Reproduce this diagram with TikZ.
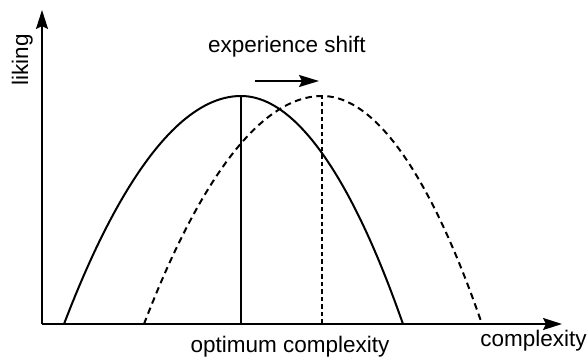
\documentclass[tikz,border=0pt]{standalone}
\usepackage{fontspec}
\setmainfont{Liberation Sans}
\usetikzlibrary{arrows.meta}

\begin{document}
\begin{tikzpicture}[
    x=1pt, y=1pt,
    axis/.style={line width=2pt, -{Stealth[length=19pt, width=12pt, inset=3pt]}},
    curve/.style={line width=2pt},
    shifted/.style={line width=2pt, dash pattern=on 6.5pt off 4.5pt},
    peakline/.style={line width=1.5pt},
    peakdash/.style={line width=1.5pt, dash pattern=on 4.5pt off 3pt},
    arr/.style={line width=2pt, -{Stealth[length=20pt, width=12pt, inset=3pt]}},
    lbl/.style={font=\fontsize{22.5}{26}\selectfont, inner sep=0pt, anchor=base},
]
    \useasboundingbox (0,0) rectangle (587,358);

    % axes
    \coordinate (origin) at (42,34);
    \coordinate (xend) at (562,34);
    \coordinate (yend) at (42,348);
    \draw[axis] (origin) -- (xend);
    \draw[axis] (origin) -- (yend);

    % curves before and after the shift
    \coordinate (rootA) at (64,34);
    \coordinate (peakA) at (241,262);
    \coordinate (endA) at (403,34);
    \coordinate (rootB) at (144,34);
    \coordinate (peakB) at (322,262);
    \coordinate (endB) at (482,34);
    \draw[curve] (rootA) parabola bend (peakA) (endA);
    \draw[shifted] (rootB) parabola bend (peakB) (endB);

    % optimum lines
    \coordinate (optA) at (241,34);
    \coordinate (optB) at (322,34);
    \draw[peakline] (optA) -- (peakA);
    \draw[peakdash] (optB) -- (peakB);

    % shift arrow
    \coordinate (shiftL) at (255,277);
    \coordinate (shiftR) at (319,277);
    \draw[arr] (shiftL) -- (shiftR);

    % labels
    \node[lbl] (shiftlbl) at (287,305) {experience shift};
    \node[lbl] (optlbl) at (290,5) {optimum complexity};
    \node[lbl] (xlbl) at (533.5,11) {complexity};
    \node[lbl, rotate=90] (ylbl) at (28,298) {liking};
\end{tikzpicture}
\end{document}
